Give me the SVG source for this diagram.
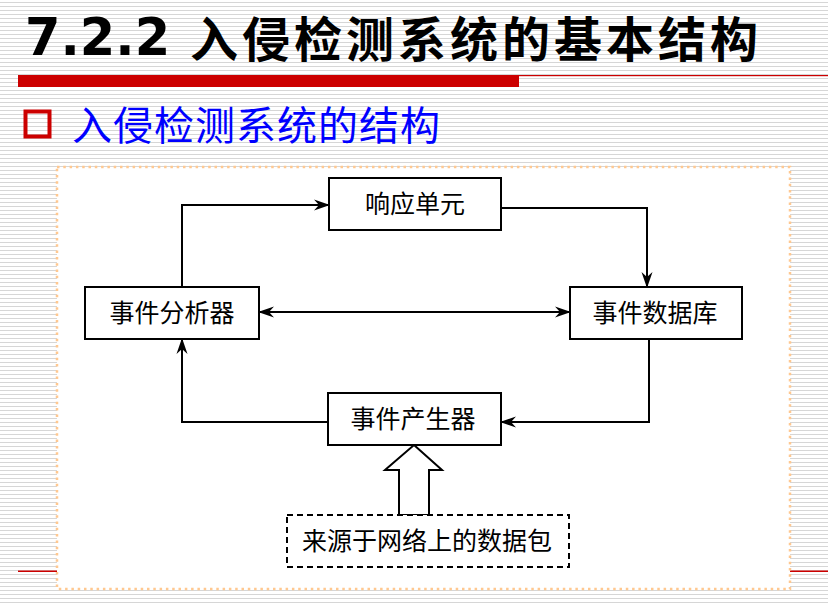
<svg xmlns="http://www.w3.org/2000/svg" width="828" height="603" viewBox="0 0 828 603">
  <defs>
    <pattern id="stripes" x="0" y="0" width="8" height="4" patternUnits="userSpaceOnUse">
      <rect x="0" y="2" width="8" height="1" fill="#d6d6d6"/>
    </pattern>
    <marker id="arr" viewBox="0 0 16 12" refX="15" refY="6" markerWidth="16" markerHeight="12" markerUnits="userSpaceOnUse" orient="auto-start-reverse">
      <path d="M0,0.5 L16,6 L0,11.5 L5,6 z" fill="#000"/>
    </marker>
    <style>
      .box { fill: #fff; stroke: #000; stroke-width: 2; }
      .dash { fill: #fff; stroke: #000; stroke-width: 2; stroke-dasharray: 6 4; }
      .lbl { font-family: "Noto Sans CJK SC", "Noto Sans", sans-serif; font-size: 25px; fill: #000; text-anchor: middle; }
      .conn { fill: none; stroke: #000; stroke-width: 2; }
    </style>
  </defs>

  <!-- background -->
  <rect x="0" y="0" width="828" height="603" fill="#fff"/>
  <rect x="0" y="0" width="828" height="603" fill="url(#stripes)"/>

  <!-- title -->
  <text x="25" y="55" font-family="'DejaVu Sans', Verdana, sans-serif" font-weight="bold" font-size="51" fill="#000">7.2.2</text>
  <text x="190" y="57" font-family="'Noto Sans CJK SC', sans-serif" font-weight="bold" font-size="48" letter-spacing="4" fill="#000">入侵检测系统的基本结构</text>
  <rect x="18" y="75" width="810" height="1.2" fill="#cc0000"/>
  <rect x="18" y="75" width="501" height="12" fill="#cc0000"/>

  <!-- subtitle -->
  <rect x="25.5" y="111.5" width="24" height="25" fill="none" stroke="#cc0000" stroke-width="4"/>
  <text x="72" y="140" font-family="'Noto Sans CJK SC', sans-serif" font-size="40" letter-spacing="1" fill="#0000ff">入侵检测系统的结构</text>

  <!-- lower red rule -->
  <rect x="18" y="570.5" width="810" height="1.5" fill="#cc0000"/>

  <!-- picture frame -->
  <rect x="57" y="167" width="733" height="422" fill="#fff" stroke="#ffc890" stroke-width="2.5" stroke-dasharray="2.5 3.8"/>

  <!-- connectors -->
  <g id="connectors">
    <path class="conn" d="M182,287 V205 H329" marker-end="url(#arr)"/>
    <path class="conn" d="M501,208 H647 V287" marker-end="url(#arr)"/>
    <path class="conn" d="M649,339 V422 H501" marker-end="url(#arr)"/>
    <path class="conn" d="M328,422 H182 V339" marker-end="url(#arr)"/>
    <path class="conn" d="M259,312 H570" marker-start="url(#arr)" marker-end="url(#arr)"/>
    <polygon points="414,445 442,470 429,470 429,515 399,515 399,470 385,470" fill="#fff" stroke="#000" stroke-width="2"/>
  </g>

  <!-- nodes -->
  <g id="response">
    <rect class="box" x="329" y="178" width="172" height="52"/>
    <text class="lbl" x="415" y="213">响应单元</text>
  </g>
  <g id="analyzer">
    <rect class="box" x="85" y="287" width="174" height="52"/>
    <text class="lbl" x="172" y="322">事件分析器</text>
  </g>
  <g id="database">
    <rect class="box" x="570" y="287" width="172" height="52"/>
    <text class="lbl" x="655" y="322">事件数据库</text>
  </g>
  <g id="generator">
    <rect class="box" x="328" y="393" width="173" height="52"/>
    <text class="lbl" x="413" y="428">事件产生器</text>
  </g>
  <g id="packets">
    <rect class="dash" x="287" y="515" width="282" height="52"/>
    <text class="lbl" x="427" y="550">来源于网络上的数据包</text>
  </g>
</svg>
